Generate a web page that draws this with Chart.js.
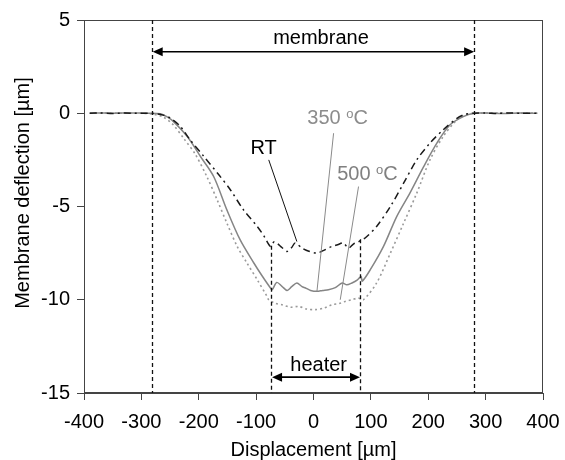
<!DOCTYPE html>
<html>
<head>
<meta charset="utf-8">
<script src="https://cdn.jsdelivr.net/npm/chart.js@4/dist/chart.umd.min.js"></script>
<style>
	html, body { margin: 0; padding: 0; background: #fff; }
	#wrap { width: 565px; height: 460px; }
</style>
</head>
<body>
<div id="wrap"><canvas id="deflChart" width="565" height="460"></canvas></div>
<script>
// Membrane deflection profiles
const rtX = [-390, -370, -350, -330, -310, -290, -275, -262, -249, -232, -215, -191, -165, -145, -122, -98, -86, -75, -69, -64, -55, -46, -38, -32, -20, -8, 6, 18, 32, 42, 52, 61, 70, 78, 84, 90, 110, 134, 157, 180, 203, 226, 250, 265, 279, 300, 320, 340, 360, 390];
const rtY = [0, 0.02, -0.01, 0.01, 0, 0, -0.03, -0.1, -0.27, -0.71, -1.43, -2.32, -3.3, -4.1, -5.18, -6.07, -6.6, -7.14, -6.9, -6.96, -7.2, -7.41, -7.2, -6.96, -7.23, -7.4, -7.5, -7.35, -7.14, -7.05, -6.96, -7.23, -7.0, -6.9, -6.78, -6.69, -6.07, -5.0, -3.75, -2.5, -1.6, -0.89, -0.27, -0.05, 0, 0.01, -0.01, 0.02, 0, 0];

const t350X = [-390, -370, -350, -330, -310, -290, -267, -255, -244, -220, -197, -174, -151, -128, -104, -90, -75, -72, -64, -55, -46, -38, -29, -20, -14, -5, 6, 16, 26, 38, 50, 58, 67, 76, 83, 85, 99, 122, 145, 168, 192, 215, 238, 261, 280, 300, 330, 360, 390];
const t350Y = [0, 0.02, 0, 0.02, 0.01, 0, -0.03, -0.2, -0.45, -1.25, -2.32, -3.39, -5.18, -6.78, -8.03, -8.7, -9.37, -9.46, -9.07, -9.28, -9.5, -9.3, -9.1, -9.3, -9.37, -9.5, -9.55, -9.5, -9.46, -9.35, -9.1, -9.2, -9.1, -8.95, -8.75, -9.0, -8.39, -7.14, -5.54, -4.28, -2.86, -1.6, -0.62, -0.18, 0, 0.01, -0.01, 0.01, 0];

const t500X = [-390, -360, -330, -300, -280, -262, -245, -225, -206, -186, -168, -151, -133, -116, -98, -81, -78, -66, -55, -40, -26, -12, 3, 18, 32, 45, 55, 67, 78, 87, 110, 134, 157, 180, 203, 226, 250, 268, 285, 310, 340, 370, 390];
const t500Y = [0, 0.01, 0, 0, -0.05, -0.2, -0.6, -1.4, -2.2, -3.39, -4.64, -5.89, -7.14, -8.03, -8.93, -9.82, -10.0, -10.2, -10.27, -10.4, -10.36, -10.5, -10.53, -10.45, -10.27, -10.2, -10.09, -10.0, -9.91, -10.0, -9.1, -7.5, -5.9, -4.28, -2.5, -1.25, -0.36, -0.05, 0, 0.01, 0, 0.01, 0];

// axes
const xTicks = [-400, -300, -200, -100, 0, 100, 200, 300, 400];
const yTicks = [-15, -10, -5, 0, 5];

// annotations (data units)
const membraneEdges = [-282, 280];
const membraneArrowY = 3.3;
const heaterEdges = [-74, 81];
const heaterTops = [-7.1, -6.75];
const heaterArrowY = -14.15;

const FONT = "'Liberation Sans', Arial, sans-serif";

const toPts = (xs, ys) => xs.map((v, i) => ({ x: v, y: ys[i] }));

function drawArrow(ctx, x1, x2, yy) {
	const head = 10, half = 4.5;
	ctx.beginPath();
	ctx.moveTo(x1 + head - 1, yy);
	ctx.lineTo(x2 - head + 1, yy);
	ctx.stroke();
	ctx.beginPath();
	ctx.moveTo(x1, yy);
	ctx.lineTo(x1 + head, yy - half);
	ctx.lineTo(x1 + head, yy + half);
	ctx.closePath();
	ctx.fill();
	ctx.beginPath();
	ctx.moveTo(x2, yy);
	ctx.lineTo(x2 - head, yy - half);
	ctx.lineTo(x2 - head, yy + half);
	ctx.closePath();
	ctx.fill();
}

function drawDegLabel(ctx, num, cx, cy, color) {
	const big = "20px " + FONT, small = "13px " + FONT;
	ctx.font = big;
	const wNum = ctx.measureText(num + " ").width;
	const wC = ctx.measureText("C").width;
	ctx.font = small;
	const wO = ctx.measureText("o").width;
	let x0 = cx - (wNum + wO + wC) / 2;
	ctx.fillStyle = color;
	ctx.textAlign = "left";
	ctx.textBaseline = "middle";
	ctx.font = big;
	ctx.fillText(num + " ", x0, cy);
	ctx.font = small;
	ctx.fillText("o", x0 + wNum, cy - 4);
	ctx.font = big;
	ctx.fillText("C", x0 + wNum + wO, cy);
}

const annotPlugin = {
	id: "annot",
	afterDatasetsDraw(chart) {
		const { ctx, chartArea: a, scales: { x, y } } = chart;
		ctx.save();

		// frame around plot area
		ctx.strokeStyle = "#444";
		ctx.lineWidth = 1;
		ctx.strokeRect(Math.round(a.left) + 0.5, Math.round(a.top) + 0.5, Math.round(a.right - a.left) - 1, Math.round(a.bottom - a.top) - 1);

		// vertical dashed markers
		ctx.strokeStyle = "#111";
		ctx.lineWidth = 1.3;
		ctx.setLineDash([4, 3]);
		membraneEdges.forEach((v) => {
			const px = Math.round(x.getPixelForValue(v)) + 0.5;
			ctx.beginPath();
			ctx.moveTo(px, a.top);
			ctx.lineTo(px, a.bottom);
			ctx.stroke();
		});
		heaterEdges.forEach((v, i) => {
			const px = Math.round(x.getPixelForValue(v)) + 0.5;
			ctx.beginPath();
			ctx.moveTo(px, y.getPixelForValue(heaterTops[i]));
			ctx.lineTo(px, a.bottom);
			ctx.stroke();
		});
		ctx.setLineDash([]);

		// arrows
		ctx.strokeStyle = "#000";
		ctx.fillStyle = "#000";
		ctx.lineWidth = 1.6;
		drawArrow(ctx, x.getPixelForValue(membraneEdges[0]) + 1, x.getPixelForValue(membraneEdges[1]), y.getPixelForValue(membraneArrowY));
		drawArrow(ctx, x.getPixelForValue(heaterEdges[0]) + 1, x.getPixelForValue(heaterEdges[1]), y.getPixelForValue(heaterArrowY));

		// leader lines
		ctx.lineWidth = 1;
		const leader = (x1, y1, x2, y2, col) => {
			ctx.strokeStyle = col;
			ctx.beginPath();
			ctx.moveTo(x.getPixelForValue(x1), y.getPixelForValue(y1));
			ctx.lineTo(x.getPixelForValue(x2), y.getPixelForValue(y2));
			ctx.stroke();
		};
		leader(-78, -2.5, -29, -6.88, "#111");
		leader(35, -1.07, 6, -9.55, "#8a8a8a");
		leader(78.5, -3.93, 46.6, -10.0, "#8a8a8a");

		// text labels
		ctx.font = "20px " + FONT;
		ctx.textAlign = "center";
		ctx.textBaseline = "middle";
		ctx.fillStyle = "#000";
		ctx.fillText("membrane", x.getPixelForValue(13), y.getPixelForValue(4.0));
		ctx.fillText("heater", x.getPixelForValue(9), y.getPixelForValue(-13.5));
		ctx.fillText("RT", x.getPixelForValue(-87), y.getPixelForValue(-1.9));
		drawDegLabel(ctx, "350", x.getPixelForValue(42), y.getPixelForValue(-0.3), "#8c8c8c");
		drawDegLabel(ctx, "500", x.getPixelForValue(94), y.getPixelForValue(-3.3), "#808080");

		// y axis title
		ctx.save();
		ctx.translate(23, 193);
		ctx.rotate(-Math.PI / 2);
		ctx.fillStyle = "#000";
		ctx.font = "20px " + FONT;
		ctx.textAlign = "center";
		ctx.textBaseline = "middle";
		ctx.fillText("Membrane deflection [\u00b5m]", 0, 0);
		ctx.restore();

		ctx.restore();
	},
};

const canvas = document.getElementById("deflChart");
const ctx = canvas.getContext("2d");

new Chart(ctx, {
	type: "line",
	data: {
		datasets: [
			{
				label: "RT",
				data: toPts(rtX, rtY),
				borderColor: "#1a1a1a",
				borderWidth: 1.5,
				borderDash: [7, 4, 2, 4],
				pointRadius: 0,
				tension: 0.3,
			},
			{
				label: "350 oC",
				data: toPts(t350X, t350Y),
				borderColor: "#858585",
				borderWidth: 1.5,
				pointRadius: 0,
				tension: 0.3,
			},
			{
				label: "500 oC",
				data: toPts(t500X, t500Y),
				borderColor: "#9a9a9a",
				borderWidth: 1.6,
				borderDash: [2, 3],
				pointRadius: 0,
				tension: 0.3,
			},
		],
	},
	options: {
		responsive: false,
		animation: false,
		layout: { padding: { left: 0, right: 22, top: 20, bottom: 0 } },
		plugins: {
			legend: { display: false },
			tooltip: { enabled: false },
		},
		scales: {
			x: {
				type: "linear",
				min: -400,
				max: 400,
				afterBuildTicks: (s) => { s.ticks = xTicks.map((v) => ({ value: v })); },
				afterFit: (s) => {
					s.height = 67;
					s.paddingLeft = 0;
					s.paddingRight = 0;
				},
				grid: { drawOnChartArea: false, drawTicks: true, tickLength: 7, color: "#444" },
				border: { color: "#444", width: 1 },
				ticks: { color: "#000", padding: 10, maxRotation: 0, font: { family: FONT, size: 20 } },
				title: {
					display: true,
					text: "Displacement [\u00b5m]",
					color: "#000",
					font: { family: FONT, size: 20, lineHeight: 1 },
					padding: { top: 0, bottom: 0 },
				},
			},
			y: {
				type: "linear",
				min: -15,
				max: 5,
				afterBuildTicks: (s) => { s.ticks = yTicks.map((v) => ({ value: v })); },
				afterFit: (s) => {
					s.width = 84;
					s.paddingTop = 0;
					s.paddingBottom = 0;
				},
				grid: { drawOnChartArea: false, drawTicks: true, tickLength: 7, color: "#444" },
				border: { color: "#444", width: 1 },
				ticks: { color: "#000", padding: 7, font: { family: FONT, size: 20 } },
			},
		},
	},
	plugins: [annotPlugin],
});
</script>
</body>
</html>
